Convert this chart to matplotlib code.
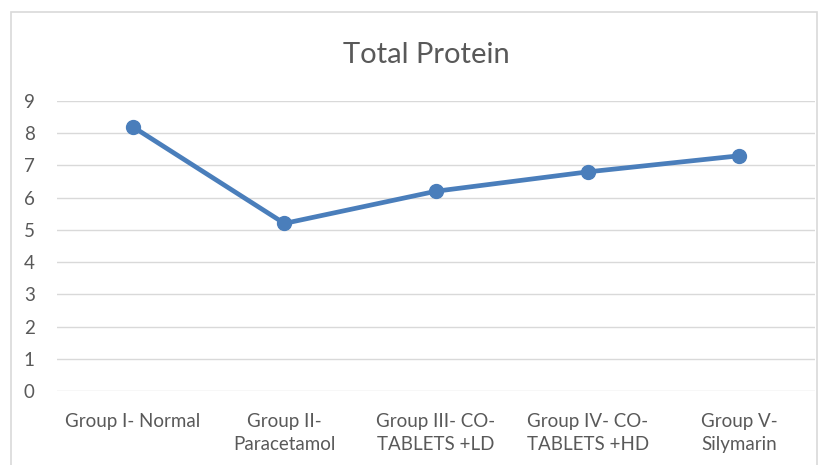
import matplotlib
matplotlib.use("Agg")
import matplotlib.pyplot as plt
from matplotlib.patches import Rectangle

groups = ["Group I- Normal", "Group II-\nParacetamol", "Group III- CO-\nTABLETS +LD",
          "Group IV- CO-\nTABLETS +HD", "Group V-\nSilymarin"]
total_protein = [8.2, 5.2, 6.2, 6.8, 7.3]
y_ticks = list(range(0, 10))

TEXT = "#595959"
GRID = "#d9d9d9"
BLUE = "#4a7ebb"

plt.rcParams["font.family"] = ["Lato", "DejaVu Sans"]

fig = plt.figure(figsize=(8.29, 4.65), dpi=100)
# chart frame
fig.patches.append(Rectangle((11 / 829, -0.01), (817 - 11) / 829, (465 - 12) / 465 + 0.01,
                             transform=fig.transFigure, fill=False,
                             edgecolor=GRID, lw=1.2))

ax = fig.add_axes([57 / 829, (465 - 391) / 465, (815 - 57) / 829, 290 / 465])
x = range(len(groups))
ax.plot(x, total_protein, color=BLUE, lw=3.4, marker="o", ms=10, zorder=3)

ax.set_xlim(-0.5, len(groups) - 0.5)
ax.set_ylim(0, 9)
ax.set_yticks(y_ticks)
ax.set_xticks(list(x))
ax.set_xticklabels(groups)
ax.tick_params(axis="both", length=0, colors=TEXT, labelsize=13.5)
ax.tick_params(axis="x", pad=16)
ax.tick_params(axis="y", pad=16)
for lbl in ax.get_xticklabels():
    lbl.set_linespacing(1.4)
ax.grid(axis="y", color=GRID, lw=1)
ax.set_axisbelow(True)
for s in ax.spines.values():
    s.set_visible(False)

fig.text(426 / 829, 1 - 55 / 465, "Total Protein", ha="center", va="center",
         fontsize=21, color=TEXT)

fig.savefig("out.png", dpi=100)
